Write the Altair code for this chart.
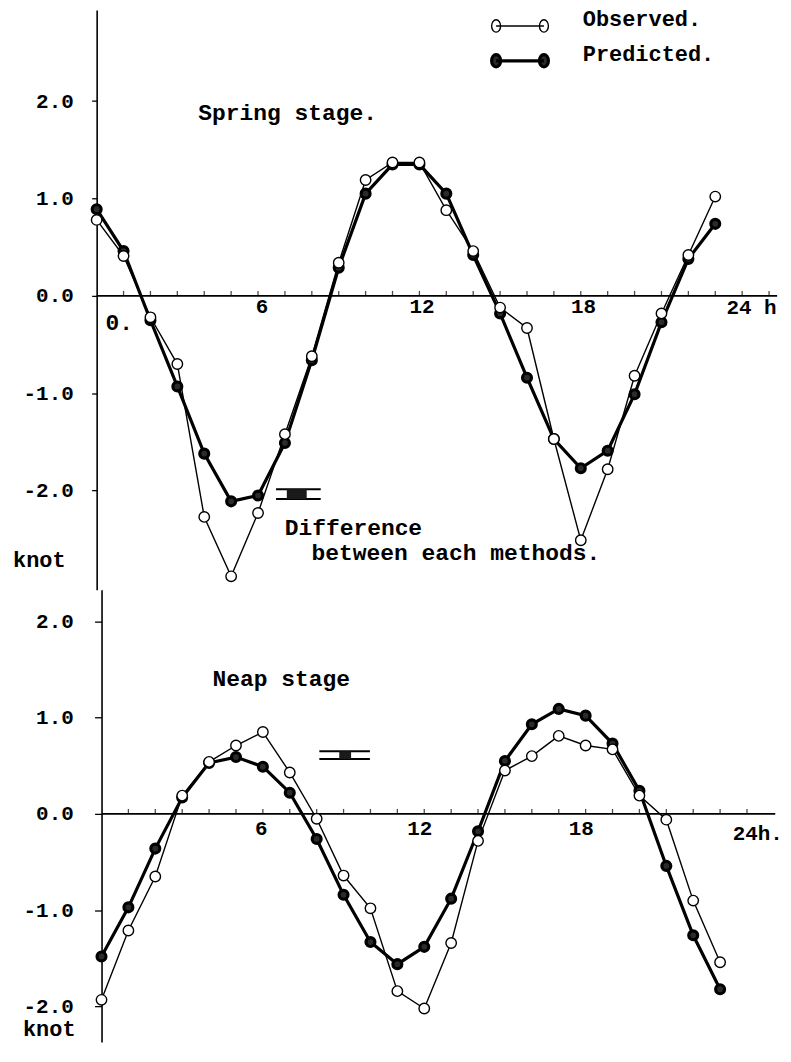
import altair as alt
import pandas as pd

# ---------------- data ----------------
hours = list(range(24))
series_names = ["Observed.", "Predicted."]

spring_observed = [0.78, 0.41, -0.22, -0.70, -2.27, -2.88, -2.23, -1.42, -0.62, 0.34, 1.19, 1.37,
                   1.37, 0.88, 0.46, -0.12, -0.33, -1.47, -2.51, -1.78, -0.82, -0.18, 0.42, 1.02]
spring_predicted = [0.89, 0.46, -0.25, -0.93, -1.62, -2.11, -2.05, -1.51, -0.66, 0.29, 1.05, 1.35,
                    1.35, 1.05, 0.42, -0.18, -0.84, -1.47, -1.77, -1.59, -1.01, -0.27, 0.38, 0.74]

neap_observed = [-1.93, -1.21, -0.65, 0.19, 0.54, 0.71, 0.85, 0.43, -0.05, -0.64, -0.98, -1.84,
                 -2.02, -1.34, -0.28, 0.45, 0.60, 0.81, 0.71, 0.67, 0.19, -0.06, -0.90, -1.54]
neap_predicted = [-1.48, -0.97, -0.36, 0.17, 0.53, 0.59, 0.49, 0.22, -0.26, -0.84, -1.33, -1.56,
                  -1.38, -0.88, -0.18, 0.55, 0.93, 1.09, 1.02, 0.73, 0.24, -0.54, -1.26, -1.82]

y_tick_values = [-2, -1, 0, 1, 2]
top_axis_ticks = list(range(1, 26))
low_axis_ticks = list(range(1, 25))

top_xlabels = ["6", "12", "18", "24 h"]
top_xlabel_hour = [6.15, 12.1, 18.1, 24.35]
top_xlabel_knot = [-0.11, -0.11, -0.11, -0.12]

low_xlabels = ["6", "12", "18", "24h."]
low_xlabel_hour = [5.94, 11.83, 17.84, 24.4]
low_xlabel_knot = [-0.155, -0.155, -0.155, -0.207]

# annotations
top_notes = ["Spring stage.", "0.", "Difference", "between each methods."]
top_note_hour = [3.78, 0.33, 6.99, 7.99]
top_note_knot = [1.88, -0.28, -2.38, -2.64]
low_notes = ["Neap stage"]
low_note_hour = [4.13]
low_note_knot = [1.40]

# "difference between methods" bars
top_diff_lines_knot = [-1.985, -2.087]
top_diff_span = [6.67, 8.33]
top_diff_box = [7.07, 7.81]
low_diff_lines_knot = [0.65, 0.57]
low_diff_span = [8.10, 9.98]
low_diff_box = [8.84, 9.28]

FONT = "Liberation Mono"
TOP_X = [0, 25.3]
TOP_Y = [-3.018, 2.936]
LOW_X = [-0.18, 25.05]
LOW_Y = [-2.368, 2.327]
PX_PER_HOUR = 27.0

LEGEND_PATH = ("M-2.4,0H2.4"
               "M-1.95,0A0.45,0.62,0,1,1,-2.85,0A0.45,0.62,0,1,1,-1.95,0Z"
               "M2.85,0A0.45,0.62,0,1,1,1.95,0A0.45,0.62,0,1,1,2.85,0Z")


def series_df(obs, pred):
    rows = [{"hour": h, "knot": v, "series": "Predicted."} for h, v in zip(hours, pred)]
    rows += [{"hour": h, "knot": v, "series": "Observed."} for h, v in zip(hours, obs)]
    return pd.DataFrame(rows)


legend = alt.Legend(
    title=None, orient="none", legendX=413, legendY=5,
    symbolType=LEGEND_PATH, symbolSize=400, symbolOpacity=1,
    labelFont=FONT, labelFontSize=22, labelFontWeight="bold", labelColor="black",
    labelOffset=51, labelBaseline="alphabetic", rowPadding=8, padding=0,
)
fill_enc = alt.Fill("series:N", scale=alt.Scale(domain=series_names, range=["white", "#2b2b2b"]),
                    legend=legend)
stroke_enc = alt.Stroke("series:N", scale=alt.Scale(domain=series_names, range=["black", "black"]),
                        legend=legend)
sw_enc = alt.StrokeWidth("series:N", scale=alt.Scale(domain=series_names, range=[1.4, 3.2]),
                         legend=legend)

LABEL_EXPR = "(datum.value < 0 ? '-' : '') + format(abs(datum.value), '.1f')"


def panel(obs, pred, xdom, ydom, yaxis, axis_ticks, xl, xl_h, xl_k, notes, note_h, note_k,
          dl_k, d_span, d_box):
    xs = alt.Scale(domain=xdom, nice=False, zero=False)
    ys = alt.Scale(domain=ydom, nice=False, zero=False)
    df = series_df(obs, pred)

    def X(f):
        return alt.X(f, type="quantitative", scale=xs, axis=None)

    def Y(f):
        return alt.Y(f, type="quantitative", scale=ys, axis=yaxis)

    lines = alt.Chart(df).mark_line().encode(
        x=X("hour"), y=Y("knot"), stroke=stroke_enc, strokeWidth=sw_enc, detail="series:N",
    )
    pts_pred = alt.Chart(df).transform_filter(alt.datum.series == "Predicted.").mark_point(
        shape="circle", filled=True, opacity=1, size=80
    ).encode(x=X("hour"), y=Y("knot"), fill=fill_enc, stroke=stroke_enc, strokeWidth=sw_enc)
    pts_obs = alt.Chart(df).transform_filter(alt.datum.series == "Observed.").mark_point(
        shape="circle", filled=True, opacity=1, size=110
    ).encode(x=X("hour"), y=Y("knot"), fill=fill_enc, stroke=stroke_enc, strokeWidth=sw_enc)

    zero_df = pd.DataFrame({"knot": [0.0], "x0": [max(xdom[0], 0)], "x1": [xdom[1]]})
    zero = alt.Chart(zero_df).mark_rule(color="black", strokeWidth=1.6).encode(
        x=X("x0"), x2="x1:Q", y=Y("knot"))

    tick_df = pd.DataFrame({"hour": axis_ticks, "knot": [0.0] * len(axis_ticks)})
    ticks = alt.Chart(tick_df).mark_tick(orient="vertical", size=5, thickness=1.3,
                                         color="black", yOffset=-2.5).encode(
        x=X("hour"), y=Y("knot"))

    xl_df = pd.DataFrame({"label": xl, "hour": xl_h, "knot": xl_k})
    xlabels = alt.Chart(xl_df).mark_text(font=FONT, fontSize=21, fontWeight="bold",
                                         color="black", baseline="middle").encode(
        x=X("hour"), y=Y("knot"), text="label:N")

    note_df = pd.DataFrame({"label": notes, "hour": note_h, "knot": note_k})
    note_txt = alt.Chart(note_df).mark_text(font=FONT, fontSize=23, fontWeight="bold",
                                            color="black", align="left",
                                            baseline="middle").encode(
        x=X("hour"), y=Y("knot"), text="label:N")

    dl_df = pd.DataFrame({"knot": dl_k, "a": [d_span[0]] * 2, "b": [d_span[1]] * 2})
    dlines = alt.Chart(dl_df).mark_rule(color="black", strokeWidth=2).encode(
        x=X("a"), x2="b:Q", y=Y("knot"))
    db_df = pd.DataFrame({"a": [d_box[0]], "b": [d_box[1]], "knot": [dl_k[0]], "k1": [dl_k[1]]})
    dbox = alt.Chart(db_df).mark_rect(color="#1a1a1a").encode(
        x=X("a"), x2="b:Q", y=Y("knot"), y2="k1:Q")

    return alt.layer(lines, zero, ticks, xlabels, note_txt, dlines, dbox, pts_pred, pts_obs)


axis_common = dict(
    values=y_tick_values, labelExpr=LABEL_EXPR, grid=False,
    labelFont=FONT, labelFontSize=21, labelFontWeight="bold", labelColor="black",
    domainColor="black", domainWidth=1.6, tickColor="black", tickWidth=1.3,
    title="knot", titleAngle=0, titleAlign="left", titleBaseline="middle",
    titleFont=FONT, titleFontSize=22, titleFontWeight="bold", titleColor="black",
)
top_axis = alt.Axis(tickSize=5, labelPadding=18.5, titleX=-84.5, titleY=552, **axis_common)
low_axis = alt.Axis(tickSize=7, labelPadding=21.4, offset=-4.9, titleX=-79.4, titleY=440,
                    **axis_common)

top = panel(spring_observed, spring_predicted, TOP_X, TOP_Y, top_axis, top_axis_ticks,
            top_xlabels, top_xlabel_hour, top_xlabel_knot, top_notes, top_note_hour,
            top_note_knot, top_diff_lines_knot, top_diff_span, top_diff_box).properties(
    width=(TOP_X[1] - TOP_X[0]) * PX_PER_HOUR, height=582)

low = panel(neap_observed, neap_predicted, LOW_X, LOW_Y, low_axis, low_axis_ticks,
            low_xlabels, low_xlabel_hour, low_xlabel_knot, low_notes, low_note_hour,
            low_note_knot, low_diff_lines_knot, low_diff_span, low_diff_box).properties(
    width=(LOW_X[1] - LOW_X[0]) * PX_PER_HOUR, height=454)

chart = alt.vconcat(top, low, spacing=0).properties(
    padding={"left": 4, "top": 0, "right": 0, "bottom": 0},
    background="white",
).configure_view(stroke=None)

chart.save("out.html", embed_options={"renderer": "svg", "actions": False})
